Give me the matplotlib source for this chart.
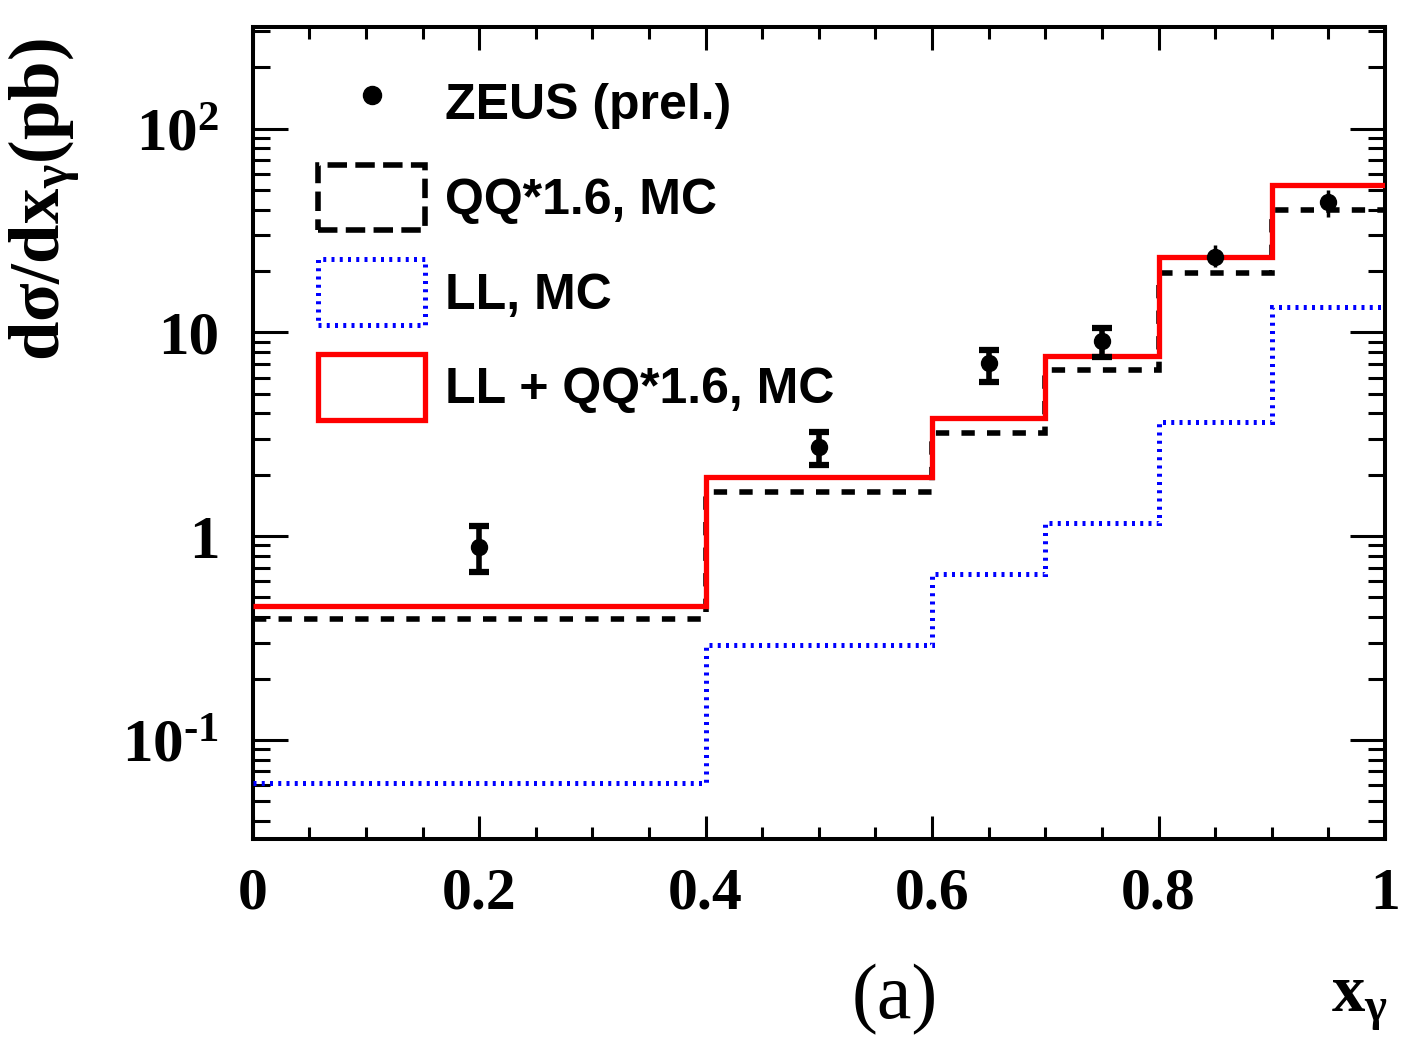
import numpy as np
import matplotlib
matplotlib.use("Agg")
import matplotlib.pyplot as plt
from matplotlib.lines import Line2D
from matplotlib.patches import Patch
from matplotlib.ticker import FixedLocator, NullFormatter

plt.rcParams['mathtext.fontset'] = 'custom'
plt.rcParams['mathtext.rm'] = 'Liberation Serif:bold'
plt.rcParams['mathtext.bf'] = 'Liberation Serif:bold'
plt.rcParams['mathtext.it'] = 'Liberation Serif:bold'
plt.rcParams['mathtext.default'] = 'rm'

# ---------------- data ----------------
bin_edges = [0.0, 0.4, 0.6, 0.7, 0.8, 0.9, 1.0]
qq_mc = [0.393, 1.655, 3.22, 6.53, 19.6, 39.8]          # QQ*1.6, MC (black dashed)
ll_mc = [0.0613, 0.293, 0.651, 1.166, 3.65, 13.3]       # LL, MC (blue dotted)
sum_mc = [0.455, 1.94, 3.81, 7.68, 23.5, 52.9]          # LL + QQ*1.6, MC (red)

zeus_x = [0.2, 0.5, 0.65, 0.75, 0.85, 0.95]
zeus_y = [0.889, 2.75, 7.05, 9.06, 23.5, 43.6]
zeus_up = [1.127, 3.26, 8.19, 10.46, 26.8, 49.8]
zeus_lo = [0.663, 2.24, 5.73, 7.59, 21.0, 36.9]

legend_labels = ["ZEUS (prel.)", "QQ*1.6, MC", "LL, MC", "LL + QQ*1.6, MC"]
xtick_vals = [0, 0.2, 0.4, 0.6, 0.8, 1.0]
xtick_labels = ["0", "0.2", "0.4", "0.6", "0.8", "1"]
ytick_vals = [0.1, 1, 10, 100]
ytick_labels = ["10$^{\\text{-}1}$", "1", "10", "10$^{2}$"]

# ---------------- figure ----------------
fig = plt.figure(figsize=(14.11, 10.53), dpi=100)
ax = fig.add_axes([0.1791, 0.2037, 0.8025, 0.7711])
ax.set_yscale('log')
ax.set_xlim(0, 1)
ax.set_ylim(0.0328, 317)

ax.stairs(qq_mc, bin_edges, baseline=None, color='black', linewidth=4.0,
          linestyle=(0, (2.4, 2.2)), zorder=3)
ax.stairs(ll_mc, bin_edges, baseline=None, color='#0000ff', linewidth=3.6,
          linestyle=(0, (0.6, 1.05)), zorder=3)
ax.stairs(sum_mc, bin_edges, baseline=None, color='#ff0000', linewidth=3.8, zorder=4)

zx = np.array(zeus_x); zy = np.array(zeus_y)
zup = np.array(zeus_up) - zy; zlo = zy - np.array(zeus_lo)
n_cap = 4
ax.errorbar(zx[:n_cap], zy[:n_cap], yerr=[zlo[:n_cap], zup[:n_cap]], fmt='o', color='black',
            markersize=11.5, elinewidth=4.0, capsize=7, capthick=4.5, zorder=5)
ax.errorbar(zx[n_cap:], zy[n_cap:], yerr=[zlo[n_cap:], zup[n_cap:]], fmt='o', color='black',
            markersize=11.5, elinewidth=2.5, capsize=0, zorder=5)

# ticks
for s in ax.spines.values():
    s.set_linewidth(2.9)
ax.xaxis.set_major_locator(FixedLocator(xtick_vals))
ax.xaxis.set_minor_locator(FixedLocator(np.arange(0.05, 1.0, 0.05)))
ax.set_xticks(xtick_vals, xtick_labels)
ax.yaxis.set_major_locator(FixedLocator(ytick_vals))
minors = [m * 10.0 ** e for e in range(-2, 3) for m in range(2, 10)]
ax.yaxis.set_minor_locator(FixedLocator(minors))
ax.yaxis.set_minor_formatter(NullFormatter())
ax.set_yticks(ytick_vals, ytick_labels)

ax.tick_params(axis='x', which='major', direction='in', length=16.5, width=2.2, top=True,
               pad=21, labelsize=43)
ax.tick_params(axis='x', which='minor', direction='in', length=8.6, width=2.2, top=True)
ax.tick_params(axis='y', which='major', direction='in', length=25, width=2.2, right=True,
               pad=24, labelsize=44)
ax.tick_params(axis='y', which='minor', direction='in', length=12, width=2.2, right=True)
for lab in ax.get_xticklabels() + ax.get_yticklabels():
    lab.set_fontfamily('Liberation Serif')
    lab.set_fontweight('bold')

# legend
handles = [
    Line2D([], [], marker='o', color='black', linestyle='none', markersize=13),
    Patch(facecolor='none', edgecolor='black', linewidth=4.0, linestyle=(0, (3.5, 1.5))),
    Patch(facecolor='none', edgecolor='#0000ff', linewidth=3.6, linestyle=(0, (0.6, 1.05))),
    Patch(facecolor='none', edgecolor='#ff0000', linewidth=3.8),
]
leg = ax.legend(handles, legend_labels, loc='upper left', bbox_to_anchor=(0.0577, 0.946),
                frameon=False, borderpad=0, borderaxespad=0, handlelength=2.14,
                handleheight=1.64, labelspacing=0.58, handletextpad=0.4,
                prop={'family': 'Liberation Sans', 'weight': 'bold', 'size': 36})

# labels
fig.text(45 / 1411, 1 - 38 / 1053, 'dσ/dx$_{γ}$(pb)', rotation=90, ha='center', va='top',
         fontsize=51, family='Liberation Serif', weight='bold')
fig.text(1388 / 1411, 1 - 1012 / 1053, 'x$_{γ}$', ha='right', va='baseline',
         fontsize=48, family='Liberation Serif', weight='bold')
fig.text(895 / 1411, 1 - 1000 / 1053, '(a)', ha='center', va='center',
         fontsize=56, family='Liberation Serif')

fig.savefig('out.png', dpi=100)
